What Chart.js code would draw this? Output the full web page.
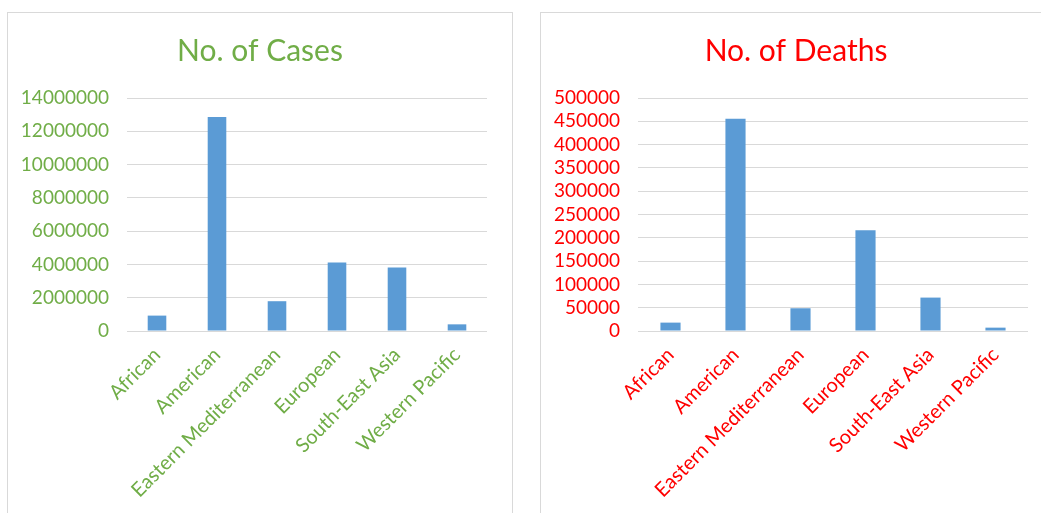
<!DOCTYPE html>
<html lang="en">
<head>
<meta charset="UTF-8">
<title>No. of Cases / No. of Deaths</title>
<script src="https://cdn.jsdelivr.net/npm/chart.js"></script>
<style>
  body { margin: 0; background: #fff; width: 1041px; height: 513px; overflow: hidden; position: relative; }
  .panel { position: absolute; top: 12px; border: 1px solid #d9d9d9; background: #fff; }
  #casesPanel { left: 7px; width: 504px; height: 520px; }
  #deathsPanel { left: 540px; width: 520px; height: 520px; }
  canvas { display: block; }
</style>
</head>
<body>

<div class="panel" id="casesPanel"><canvas id="casesChart" width="504" height="500"></canvas></div>
<div class="panel" id="deathsPanel"><canvas id="deathsChart" width="510" height="500"></canvas></div>

<script>
    // regions (WHO)
    const regions = ['African', 'American', 'Eastern Mediterranean', 'European', 'South-East Asia', 'Western Pacific'];

    // values
    const cases = [925000, 12860000, 1790000, 4120000, 3820000, 400000];
    const deaths = [18000, 455500, 48800, 216000, 71700, 7200];

    // y axis ticks
    const caseTicks = [0, 2000000, 4000000, 6000000, 8000000, 10000000, 12000000, 14000000];
    const deathTicks = [0, 50000, 100000, 150000, 200000, 250000, 300000, 350000, 400000, 450000, 500000];

    const BAR_BLUE = '#5b9bd5';
    const GRID = '#d9d9d9';

    function drawChart(id, title, color, values, ticks, yWidth, xHeight, rightGap) {
        return new Chart(document.getElementById(id), {
            type: 'bar',
            data: {
                labels: regions,
                datasets: [{
                    label: title,
                    data: values,
                    backgroundColor: BAR_BLUE,
                    borderWidth: 0,
                    categoryPercentage: 1,
                    barPercentage: 0.31
                }]
            },
            options: {
                responsive: false,
                animation: false,
                plugins: {
                    legend: { display: false },
                    tooltip: { enabled: false },
                    title: {
                        display: true,
                        text: title,
                        color: color,
                        font: { family: 'Lato', size: 30, weight: 'normal' },
                        padding: { top: 20, bottom: 29 }
                    }
                },
                scales: {
                    x: {
                        grid: { display: false, drawTicks: false },
                        border: { display: false },
                        ticks: {
                            color: color,
                            font: { family: 'Lato', size: 20 },
                            minRotation: 45,
                            maxRotation: 45,
                            autoSkip: false,
                            padding: 12
                        },
                        afterFit: s => { s.height = xHeight; }
                    },
                    y: {
                        min: ticks[0],
                        max: ticks[ticks.length - 1],
                        grid: { color: GRID, lineWidth: 1, drawTicks: false },
                        border: { display: false },
                        ticks: {
                            color: color,
                            font: { family: 'Lato', size: 19 },
                            padding: 18,
                            autoSkip: false,
                            callback: v => String(v)
                        },
                        afterBuildTicks: s => { s.ticks = ticks.map(v => ({ value: v })); },
                        afterFit: s => { s.width = yWidth; }
                    },
                    // empty right-hand strip so the title stays centred on the whole panel
                    gap: {
                        position: 'right',
                        grid: { display: false, drawTicks: false },
                        border: { display: false },
                        ticks: { display: false },
                        afterFit: s => { s.width = rightGap; }
                    }
                }
            }
        });
    }

    drawChart('casesChart', 'No. of Cases', '#70ad47', cases, caseTicks, 119, 182, 25);
    drawChart('deathsChart', 'No. of Deaths', '#ff0000', deaths, deathTicks, 97, 182, 23);
</script>

</body>
</html>
